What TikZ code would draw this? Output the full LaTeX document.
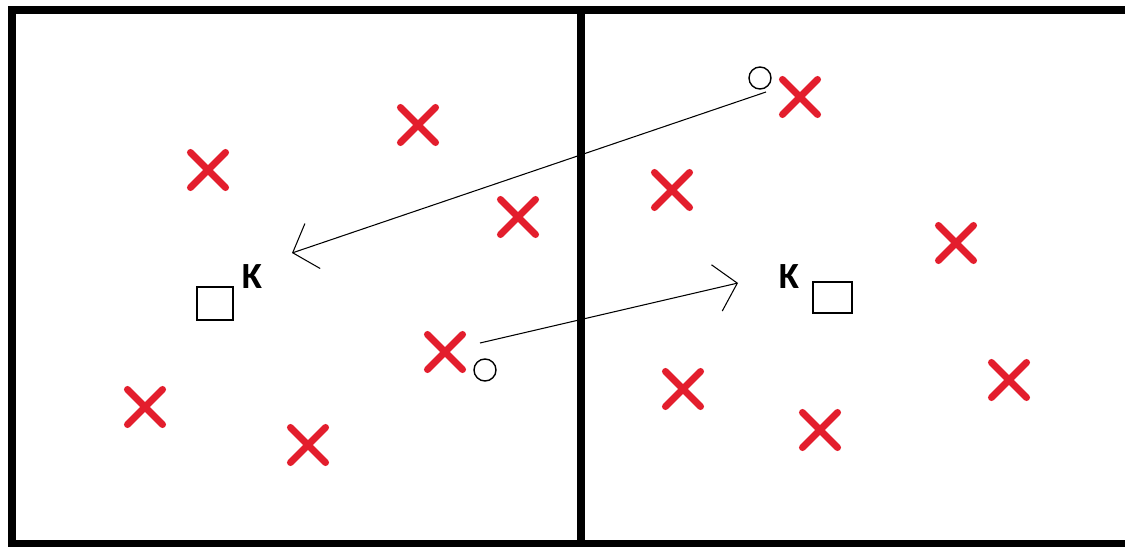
\documentclass[tikz,border=0pt]{standalone}
\usepackage{fontspec}
\usetikzlibrary{arrows.meta,shapes.misc}
\newfontfamily\labelfont{Carlito}
\definecolor{markred}{HTML}{E31E2D}

\begin{document}
\begin{tikzpicture}[x=0.02cm,y=-0.02cm,
  xmark/.style={cross out,draw=markred,line width=4pt,line cap=round,minimum size=0.56cm,inner sep=0pt},
  ring/.style={circle,draw,line width=0.8pt,minimum size=0.44cm,inner sep=0pt},
  kbox/.style={rectangle,draw,line width=0.8pt,inner sep=0pt},
  klabel/.style={font=\labelfont\bfseries\fontsize{21}{21}\selectfont,inner sep=0pt},
  move/.style={line width=0.6pt,-{Straight Barb[length=0.42cm,width=0.95cm,line width=0.6pt]}}]
\useasboundingbox (0,0) rectangle (1125,547);
\draw[line width=4.5pt] (12,10) rectangle (1129,544);
\draw[line width=4.5pt] (581,10)--(581,544);
% left cell
\node[xmark] (l1) at (208,170) {};
\node[xmark] (l2) at (418,125) {};
\node[xmark] (l3) at (518,217) {};
\node[xmark] (l4) at (445,352) {};
\node[xmark] (l5) at (145,407) {};
\node[xmark] (l6) at (308,445) {};
\node[kbox,minimum width=0.72cm,minimum height=0.66cm] (kl) at (215,303.5) {};
\node[klabel] (kltext) at (252,276.5) {K};
\node[ring] (ol) at (485,370) {};
% right cell
\node[xmark] (r1) at (800,97) {};
\node[xmark] (r2) at (672,190) {};
\node[xmark] (r3) at (956,243) {};
\node[xmark] (r4) at (683,389) {};
\node[xmark] (r5) at (1009,380) {};
\node[xmark] (r6) at (820,430) {};
\node[kbox,minimum width=0.78cm,minimum height=0.62cm] (kr) at (832.5,297.5) {};
\node[klabel] (krtext) at (789,276.5) {K};
\node[ring] (or) at (760,78) {};
% moves
\coordinate (fromr) at (766,92);
\coordinate (tol) at (292,253);
\coordinate (froml) at (480,343);
\coordinate (tor) at (738,283);
\draw[move] (fromr)--(tol);
\draw[move] (froml)--(tor);
\end{tikzpicture}
\end{document}
